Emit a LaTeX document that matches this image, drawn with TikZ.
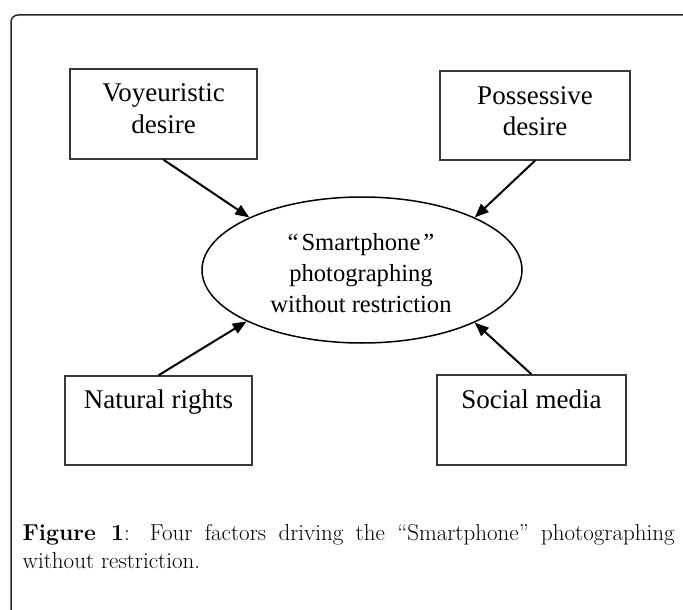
\documentclass[tikz,border=0pt]{standalone}
\usepackage{fontspec}
\newfontfamily\diagfont{Liberation Serif}
\usetikzlibrary{arrows.meta,shapes.geometric}
\begin{document}
\begin{tikzpicture}[x=1pt,y=-1pt,
  boxnode/.style={draw=black!78, line width=1.4pt, rectangle, inner sep=0pt},
  ovalnode/.style={draw=black, line width=1.5pt, ellipse, inner sep=0pt, minimum width=320pt, minimum height=146pt},
  boxtext/.style={anchor=base, inner sep=0pt, font=\diagfont\fontsize{27}{32}\selectfont},
  ovaltext/.style={anchor=base, inner sep=0pt, font=\diagfont\fontsize{24.6}{31}\selectfont},
  conn/.style={line width=2pt, -{Triangle[length=14pt,width=11pt]}},
  framebox/.style={draw=black!85, line width=1.5pt, rounded corners=7pt}]

\useasboundingbox (0,0) rectangle (683,610);
\begin{scope}
  \clip (0,0) rectangle (683,610);
  \draw[framebox] (11,15) rectangle (700,640);
\end{scope}

% boxes
\node[boxnode, minimum width=187pt, minimum height=90pt] (vbox) at (163.5,114) {};
\node[boxnode, minimum width=190pt, minimum height=89pt] (pbox) at (535,115.5) {};
\node[boxnode, minimum width=187pt, minimum height=89pt] (nbox) at (158.5,420.5) {};
\node[boxnode, minimum width=189pt, minimum height=90pt] (sbox) at (531.5,420) {};

% ellipse
\node[ovalnode] (oval) at (362,270) {};

% texts
\node[boxtext] (vtxt) at (163.5,102) {\begin{tabular}[t]{@{}c@{}}Voyeuristic\\desire\end{tabular}};
\node[boxtext] (ptxt) at (535,104) {\begin{tabular}[t]{@{}c@{}}Possessive\\desire\end{tabular}};
\node[boxtext] (ntxt) at (158.5,408) {Natural rights};
\node[boxtext] (stxt) at (531.5,408) {Social media};
\node[ovaltext] (otxt) at (361,250) {\begin{tabular}[t]{@{}c@{}}“\hspace{0.12em}Smartphone\hspace{0.12em}”\\photographing\\without restriction\end{tabular}};

% connectors
\draw[conn] (vbox.south) -- (oval.155.3);
\draw[conn] (pbox.south) -- (oval.25.5);
\draw[conn] (nbox.north) -- (oval.204.3);
\draw[conn] (sbox.north) -- (oval.335.3);

% caption
\node[anchor=base west, inner sep=0pt] (cap) at (22.5,540) {\parbox[t]{652pt}{\fontsize{23}{28}\selectfont\textbf{Figure 1}: Four factors driving the “Smartphone” photographing\linebreak without restriction.}};
\end{tikzpicture}
\end{document}
